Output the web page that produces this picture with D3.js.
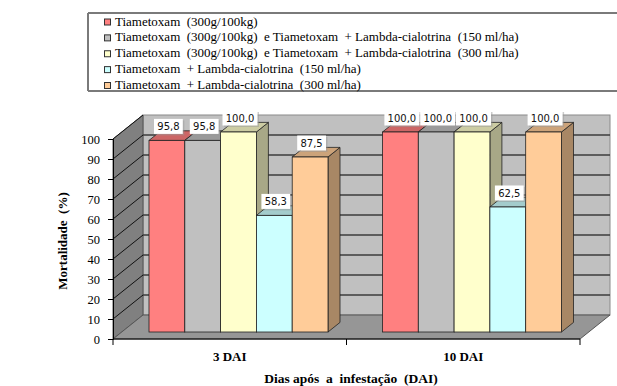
<!DOCTYPE html>
<html>
<head>
<meta charset="utf-8">
<script src="https://cdn.jsdelivr.net/npm/d3@7"></script>
<style>
  html, body { margin: 0; padding: 0; background: #fff; }
  svg { display: block; }
  text { white-space: pre; }
</style>
</head>
<body>
<svg id="chart" width="617" height="386"></svg>
<script>
// Mortality by treatment, 3 and 10 days after infestation
const categories = ["3 DAI", "10 DAI"];
const seriesNames = [
  "Tiametoxam  (300g/100kg)",
  "Tiametoxam  (300g/100kg)  e Tiametoxam  + Lambda-cialotrina  (150 ml/ha)",
  "Tiametoxam  (300g/100kg)  e Tiametoxam  + Lambda-cialotrina  (300 ml/ha)",
  "Tiametoxam  + Lambda-cialotrina  (150 ml/ha)",
  "Tiametoxam  + Lambda-cialotrina  (300 ml/ha)"
];
const tiametoxam = [95.8, 100.0];
const tiametoxamLambda150 = [95.8, 100.0];
const tiametoxamLambda300 = [100.0, 100.0];
const lambda150 = [58.3, 62.5];
const lambda300 = [87.5, 100.0];
const seriesValues = [tiametoxam, tiametoxamLambda150, tiametoxamLambda300, lambda150, lambda300];
const seriesColors = ["#FF8080", "#C0C0C0", "#FFFFCC", "#CCFFFF", "#FFCC99"];
const yTicks = [0, 10, 20, 30, 40, 50, 60, 70, 80, 90, 100];

const serif = "'Liberation Serif', 'Times New Roman', serif";
const svg = d3.select("#chart");

// ---- legend ----
const legend = svg.append("g");
legend.append("line").attr("x1", 88).attr("x2", 617).attr("y1", 13).attr("y2", 13)
  .attr("stroke", "#7a7a7a").attr("stroke-width", 2);
legend.append("line").attr("x1", 88).attr("x2", 617).attr("y1", 91).attr("y2", 91)
  .attr("stroke", "#7a7a7a").attr("stroke-width", 2);
legend.append("line").attr("x1", 88).attr("x2", 88).attr("y1", 13).attr("y2", 91)
  .attr("stroke", "#7a7a7a").attr("stroke-width", 2);
const legendRow = d3.scaleLinear().domain([0, 4]).range([18.5, 82]);
seriesNames.forEach((name, i) => {
  const yy = legendRow(i);
  legend.append("rect").attr("x", 104.5).attr("y", yy + 0.5).attr("width", 6).attr("height", 6)
    .attr("fill", seriesColors[i]).attr("stroke", "#333").attr("stroke-width", 1);
  legend.append("text").attr("x", 115).attr("y", yy + 7)
    .attr("font-family", serif).attr("font-size", 13).attr("fill", "#000")
    .text(name);
});

// ---- 3D frame geometry ----
const plotLeft = 113, plotRight = 580, plotBottom = 339, plotTop = 139;
const depthX = 30, depthY = -24;          // wall depth offset
const barOffX = 8.75, barOffY = -7;       // bar front plane
const barDepX = 12, barDepY = -9.6;       // bar depth

const x = d3.scaleBand().domain(categories).range([plotLeft, plotRight]);
const y = d3.scaleLinear().domain([0, 100]).range([plotBottom, plotTop]);
const groupWidth = 179;
const inner = d3.scaleBand().domain(d3.range(seriesNames.length)).range([0, groupWidth]);

const poly = pts => "M" + pts.map(p => p.join(",")).join("L") + "Z";
const frame = svg.append("g");

// back wall
frame.append("rect")
  .attr("x", plotLeft + depthX).attr("y", y(100) + depthY)
  .attr("width", plotRight - plotLeft).attr("height", y(0) - y(100))
  .attr("fill", "#C0C0C0").attr("stroke", "#8a8a8a").attr("stroke-width", 1);
// left wall
frame.append("path")
  .attr("d", poly([[plotLeft, y(100)], [plotLeft + depthX, y(100) + depthY],
                   [plotLeft + depthX, y(0) + depthY], [plotLeft, y(0)]]))
  .attr("fill", "#808080").attr("stroke", "#555").attr("stroke-width", 1);
// floor
frame.append("path")
  .attr("d", poly([[plotLeft, y(0)], [plotLeft + depthX, y(0) + depthY],
                   [plotRight + depthX, y(0) + depthY], [plotRight, y(0)]]))
  .attr("fill", "#969696").attr("stroke", "#555").attr("stroke-width", 1);

// gridlines on back and left walls
yTicks.filter(v => v > 0 && v < 100).forEach(v => {
  frame.append("line")
    .attr("x1", plotLeft + depthX).attr("x2", plotRight + depthX)
    .attr("y1", y(v) + depthY).attr("y2", y(v) + depthY)
    .attr("stroke", "#3c3c3c").attr("stroke-width", 1.6);
});
yTicks.filter(v => v > 0).forEach(v => {
  frame.append("line")
    .attr("x1", plotLeft).attr("x2", plotLeft + depthX)
    .attr("y1", y(v)).attr("y2", y(v) + depthY)
    .attr("stroke", "#111").attr("stroke-width", 1);
});

// ---- bars ----
const shade = (c, k) => { const r = d3.rgb(c); return d3.rgb(r.r * k, r.g * k, r.b * k).toString(); };
const fmt = v => d3.format(".1f")(v).replace(".", ",");
const bars = svg.append("g");
const labels = [];
categories.forEach((cat, ci) => {
  const gx = x(cat) + (x.bandwidth() - groupWidth) / 2 + barOffX;
  seriesValues.forEach((vals, si) => {
    const v = vals[ci];
    const x0 = gx + inner(si), x1 = x0 + inner.bandwidth();
    const yt = y(v) + barOffY, yb = y(0) + barOffY;
    const c = seriesColors[si];
    // right side face
    bars.append("path")
      .attr("d", poly([[x1, yt], [x1 + barDepX, yt + barDepY], [x1 + barDepX, yb + barDepY], [x1, yb]]))
      .attr("fill", shade(c, 0.66)).attr("stroke", "#222").attr("stroke-width", 0.8);
    // top face
    bars.append("path")
      .attr("d", poly([[x0, yt], [x0 + barDepX, yt + barDepY], [x1 + barDepX, yt + barDepY], [x1, yt]]))
      .attr("fill", shade(c, 0.8)).attr("stroke", "#222").attr("stroke-width", 0.8);
    // front face
    bars.append("rect")
      .attr("x", x0).attr("y", yt).attr("width", x1 - x0).attr("height", yb - yt)
      .attr("fill", c).attr("stroke", "#222").attr("stroke-width", 0.8);
    labels.push({ v, cx: (x0 + x1) / 2 + 1.5, cy: yt - 14 });
  });
});

// ---- axes ----
const yAxis = svg.append("g").attr("transform", `translate(${plotLeft},0)`)
  .call(d3.axisLeft(y).tickValues(yTicks).tickSize(5).tickPadding(8).tickFormat(d3.format("d")));
yAxis.select(".domain").attr("stroke", "#000");
yAxis.selectAll(".tick line").attr("stroke", "#000");
yAxis.selectAll("text").attr("font-family", serif).attr("font-size", 12.5).attr("fill", "#000");

const xAxis = svg.append("g");
xAxis.append("line").attr("x1", plotLeft).attr("x2", plotRight)
  .attr("y1", plotBottom).attr("y2", plotBottom).attr("stroke", "#000");
[x(categories[0]), ...categories.map(c => x(c) + x.bandwidth())].forEach(xx => {
  xAxis.append("line").attr("x1", xx).attr("x2", xx)
    .attr("y1", plotBottom).attr("y2", plotBottom + 6).attr("stroke", "#000");
});
categories.forEach(c => {
  xAxis.append("text").attr("x", x(c) + x.bandwidth() / 2).attr("y", 361)
    .attr("text-anchor", "middle").attr("font-family", serif)
    .attr("font-weight", "bold").attr("font-size", 13).text(c);
});

// axis titles
svg.append("text")
  .attr("transform", "translate(67,241) rotate(-90)")
  .attr("text-anchor", "middle").attr("font-family", serif)
  .attr("font-weight", "bold").attr("font-size", 13)
  .text("Mortalidade  (%)");
svg.append("text").attr("x", 351).attr("y", 382.5)
  .attr("text-anchor", "middle").attr("font-family", serif)
  .attr("font-weight", "bold").attr("font-size", 13.5)
  .text("Dias após  a  infestação  (DAI)");

// ---- data labels ----
const lab = svg.append("g");
labels.forEach(d => {
  const t = fmt(d.v);
  const w = t.length * 6.2 + 4, h = 15;
  lab.append("rect").attr("x", d.cx - w / 2 + 1.5).attr("y", d.cy - h / 2 + 1.5)
    .attr("width", w).attr("height", h).attr("fill", "#9a9a9a").attr("opacity", 0.5);
  lab.append("rect").attr("x", d.cx - w / 2).attr("y", d.cy - h / 2)
    .attr("width", w).attr("height", h).attr("fill", "#fff");
  lab.append("text").attr("x", d.cx).attr("y", d.cy + 3.8)
    .attr("text-anchor", "middle").attr("font-family", "'DejaVu Sans', Verdana, sans-serif")
    .attr("font-size", 10).attr("fill", "#111").text(t);
});
</script>
</body>
</html>
